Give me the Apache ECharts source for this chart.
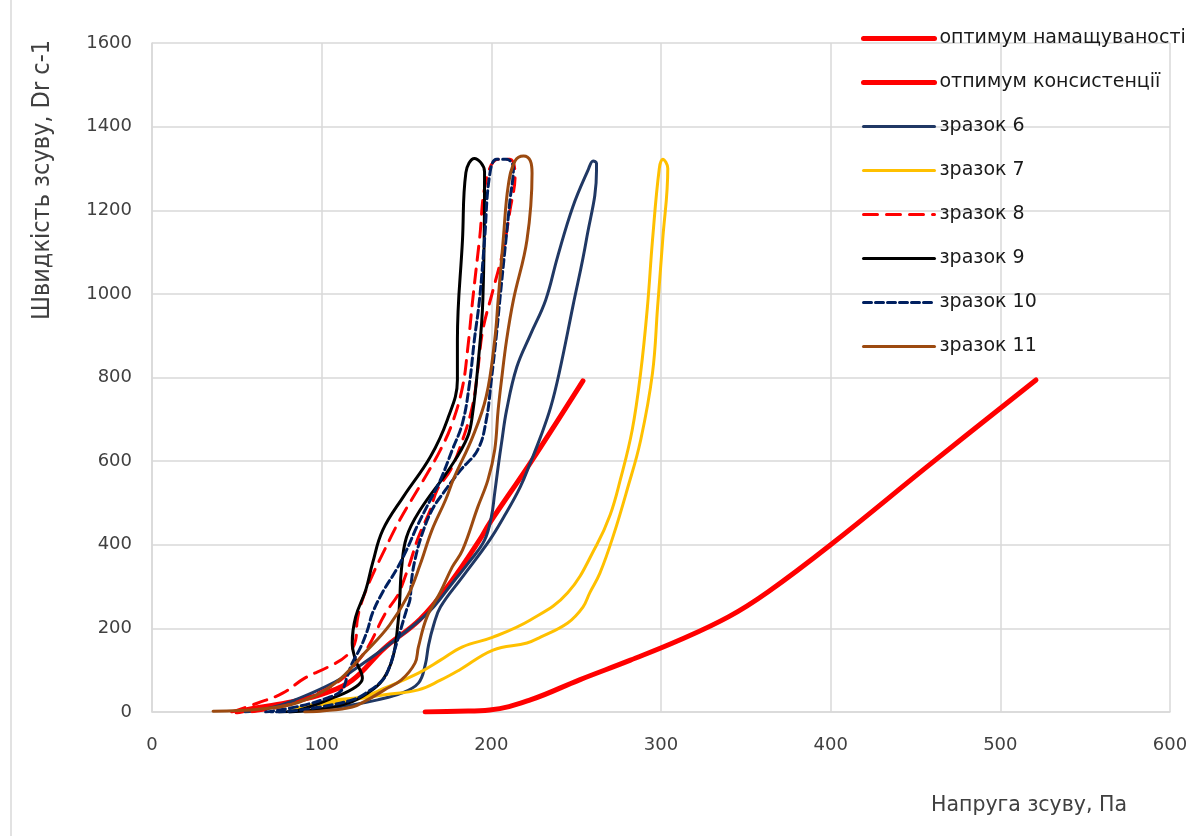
<!DOCTYPE html>
<html>
<head>
<meta charset="utf-8">
<script src="https://cdn.jsdelivr.net/npm/echarts@6/dist/echarts.min.js"></script>
<style>
  html, body { margin: 0; padding: 0; background: #ffffff; }
  #chart { width: 1202px; height: 836px; }
</style>
</head>
<body>
<div id="chart"></div>
<script>
// Flow curves: shear stress (Pa) vs shear rate (s^-1), loops = up + down sweep
const seriesNames = [
  'оптимум намащуваності',
  'отпимум консистенції',
  'зразок 6',
  'зразок 7',
  'зразок 8',
  'зразок 9',
  'зразок 10',
  'зразок 11'
];

const xTicks = [0, 100, 200, 300, 400, 500, 600];
const yTicks = [0, 200, 400, 600, 800, 1000, 1200, 1400, 1600];

const optimumWetting = [
  [50, 0], [62, 10], [82, 24], [102, 45], [118, 76], [137, 153], [158, 222],
  [176, 310], [193, 411], [199, 452], [223, 596], [254, 792]
];

const optimumConsistency = [
  [161, 0], [180, 2], [199, 5], [223, 29], [252, 77], [282, 124], [311, 172],
  [340, 228], [363, 287], [400, 400], [460, 597], [521, 794]
];

const sample6 = [
  [55, 0], [72, 12], [87, 33], [108, 72], [118, 98], [137, 153], [158, 220],
  [166, 251], [177, 308], [187, 359], [196, 411], [200, 466], [202, 524],
  [204, 586], [206, 643], [209, 722], [215, 825], [223, 902], [232, 985],
  [239, 1088], [248, 1208], [257, 1296], [260, 1318], [262, 1312],
  [262, 1296], [256, 1129], [248, 969], [240, 811], [235, 729], [229, 658],
  [223, 596], [217, 538], [208, 471], [199, 411], [183, 323], [170, 251],
  [166, 208], [163, 160], [161, 112], [157, 69], [147, 45], [133, 29],
  [118, 17], [99, 7], [81, 0]
];

const sample7 = [
  [81, 5], [108, 29], [124, 36], [137, 57], [157, 93], [170, 124], [183, 156],
  [201, 179], [223, 220], [245, 285], [262, 399], [270, 471], [276, 555],
  [283, 674], [288, 811], [292, 969], [295, 1129], [299, 1300], [301, 1322],
  [304, 1300], [301, 1129], [298, 969], [295, 811], [288, 650], [280, 531],
  [272, 423], [264, 332], [258, 285], [254, 251], [245, 213], [229, 179],
  [221, 165], [201, 148], [181, 100], [170, 76], [157, 53], [137, 41],
  [118, 29], [99, 17], [87, 7]
];

const sample8 = [
  [47, 0], [62, 21], [77, 45], [90, 81], [104, 108], [115, 136], [120, 172],
  [121, 220], [124, 268], [130, 328], [137, 387], [146, 459], [160, 555],
  [170, 627], [177, 691], [183, 777], [186, 866], [189, 985], [193, 1129],
  [197, 1272], [204, 1322], [211, 1322], [214, 1284], [211, 1200], [207, 1105],
  [201, 1009], [195, 914], [192, 818], [189, 734], [183, 650], [176, 579],
  [168, 531], [164, 483], [157, 418], [152, 356], [147, 299], [145, 280],
  [137, 232], [128, 160], [121, 120], [111, 76], [93, 36], [75, 12], [58, 0]
];

const sample9 = [
  [75, 0], [87, 5], [108, 36], [120, 60], [124, 81], [120, 124], [118, 165],
  [120, 227], [126, 292], [130, 356], [136, 435], [148, 514], [164, 610],
  [174, 698], [180, 794], [180, 890], [183, 1129], [185, 1290], [190, 1324],
  [196, 1292], [195, 985], [192, 825], [189, 715], [186, 658], [176, 586],
  [158, 483], [150, 418], [147, 340], [146, 268], [145, 213], [142, 131],
  [136, 77], [127, 45], [116, 22], [99, 7], [81, 0]
];

const sample10 = [
  [67, 0], [87, 14], [105, 36], [112, 53], [115, 84], [118, 117], [123, 155],
  [127, 196], [130, 237], [136, 287], [144, 340], [150, 387], [156, 442],
  [164, 507], [170, 555], [177, 627], [183, 691], [187, 782], [190, 890],
  [193, 985], [196, 1129], [199, 1284], [203, 1322], [209, 1322], [213, 1301],
  [211, 1224], [208, 1105], [205, 985], [203, 902], [200, 794], [197, 698],
  [192, 627], [182, 579], [173, 531], [165, 483], [159, 423], [155, 364],
  [153, 316], [152, 268], [150, 244], [146, 189], [143, 148], [140, 108],
  [136, 77], [126, 45], [118, 29], [99, 12], [81, 2], [70, 0]
];

const sample11 = [
  [36, 2], [64, 7], [87, 24], [108, 69], [125, 140], [140, 208], [151, 280],
  [158, 352], [165, 435], [173, 507], [178, 560], [189, 658], [197, 755],
  [202, 890], [204, 985], [207, 1129], [210, 1260], [214, 1318], [219, 1330],
  [223, 1318], [224, 1289], [221, 1129], [213, 985], [209, 890], [206, 794],
  [204, 722], [202, 627], [198, 555], [192, 490], [183, 387], [177, 347],
  [170, 287], [162, 227], [157, 155], [155, 117], [147, 77], [137, 53],
  [127, 29], [118, 12], [99, 2], [90, 0]
];

const seriesData = [
  optimumWetting, optimumConsistency, sample6, sample7,
  sample8, sample9, sample10, sample11
];

const seriesStyles = [
  { color: '#FF0000', width: 5, type: 'solid' },
  { color: '#FF0000', width: 5, type: 'solid' },
  { color: '#203864', width: 3, type: 'solid' },
  { color: '#FFC000', width: 3, type: 'solid' },
  { color: '#FF0000', width: 3, type: [14, 9] },
  { color: '#000000', width: 3, type: 'solid' },
  { color: '#002060', width: 3, type: [8, 4] },
  { color: '#9C4A10', width: 3, type: 'solid' }
];

const chart = echarts.init(document.getElementById('chart'), null, { renderer: 'canvas' });

const axisFont = 'DejaVu Sans, Verdana, sans-serif';
const gridColor = '#D9D9D9';

const option = {
  backgroundColor: '#ffffff',
  animation: false,
  grid: { left: 152, right: 32, top: 43, bottom: 124, containLabel: false },
  xAxis: {
    type: 'value',
    min: xTicks[0],
    max: xTicks[xTicks.length - 1],
    interval: xTicks[1] - xTicks[0],
    axisLine: { show: true, lineStyle: { color: gridColor, width: 1.5 } },
    axisTick: { show: false },
    splitLine: { show: true, lineStyle: { color: gridColor, width: 1.5 } },
    axisLabel: {
      color: '#404040', fontFamily: axisFont, fontSize: 18, margin: 24,
      formatter: v => String(v)
    }
  },
  yAxis: {
    type: 'value',
    min: yTicks[0],
    max: yTicks[yTicks.length - 1],
    interval: yTicks[1] - yTicks[0],
    axisLine: { show: true, lineStyle: { color: gridColor, width: 1.5 } },
    axisTick: { show: false },
    splitLine: { show: true, lineStyle: { color: gridColor, width: 1.5 } },
    axisLabel: {
      color: '#404040', fontFamily: axisFont, fontSize: 18, margin: 20,
      formatter: v => String(v)
    }
  },
  legend: {
    orient: 'vertical',
    left: 861,
    top: 29,
    padding: 0,
    itemWidth: 71,
    itemHeight: 14,
    itemGap: 25,
    itemStyle: { opacity: 0 },
    textStyle: { color: '#1a1a1a', fontFamily: axisFont, fontSize: 19 },
    data: seriesNames.map((name, i) => ({
      name: name,
      itemStyle: { opacity: 0 },
      lineStyle: {
        color: seriesStyles[i].color,
        width: seriesStyles[i].width,
        type: seriesStyles[i].type
      }
    }))
  },
  graphic: [
    {
      type: 'line',
      shape: { x1: 11, y1: 0, x2: 11, y2: 836 },
      style: { stroke: gridColor, lineWidth: 1.5 },
      silent: true
    },
    {
      type: 'text',
      x: 42,
      y: 180,
      rotation: Math.PI / 2,
      style: {
        text: 'Швидкість зсуву, Dr c-1',
        fill: '#404040',
        font: '25px "Liberation Sans Narrow", "DejaVu Sans Condensed", sans-serif',
        align: 'center',
        verticalAlign: 'middle'
      }
    },
    {
      type: 'text',
      x: 1029,
      y: 806,
      style: {
        text: 'Напруга зсуву, Па',
        fill: '#404040',
        font: '20.5px "DejaVu Sans", sans-serif',
        align: 'center',
        verticalAlign: 'middle'
      }
    }
  ],
  series: seriesNames.map((name, i) => ({
    name: name,
    type: 'line',
    data: seriesData[i],
    smooth: 0.4,
    showSymbol: false,
    symbol: 'none',
    clip: true,
    color: seriesStyles[i].color,
    lineStyle: {
      color: seriesStyles[i].color,
      width: seriesStyles[i].width,
      type: seriesStyles[i].type,
      cap: 'round',
      join: 'round'
    }
  }))
};

chart.setOption(option);
</script>
</body>
</html>
